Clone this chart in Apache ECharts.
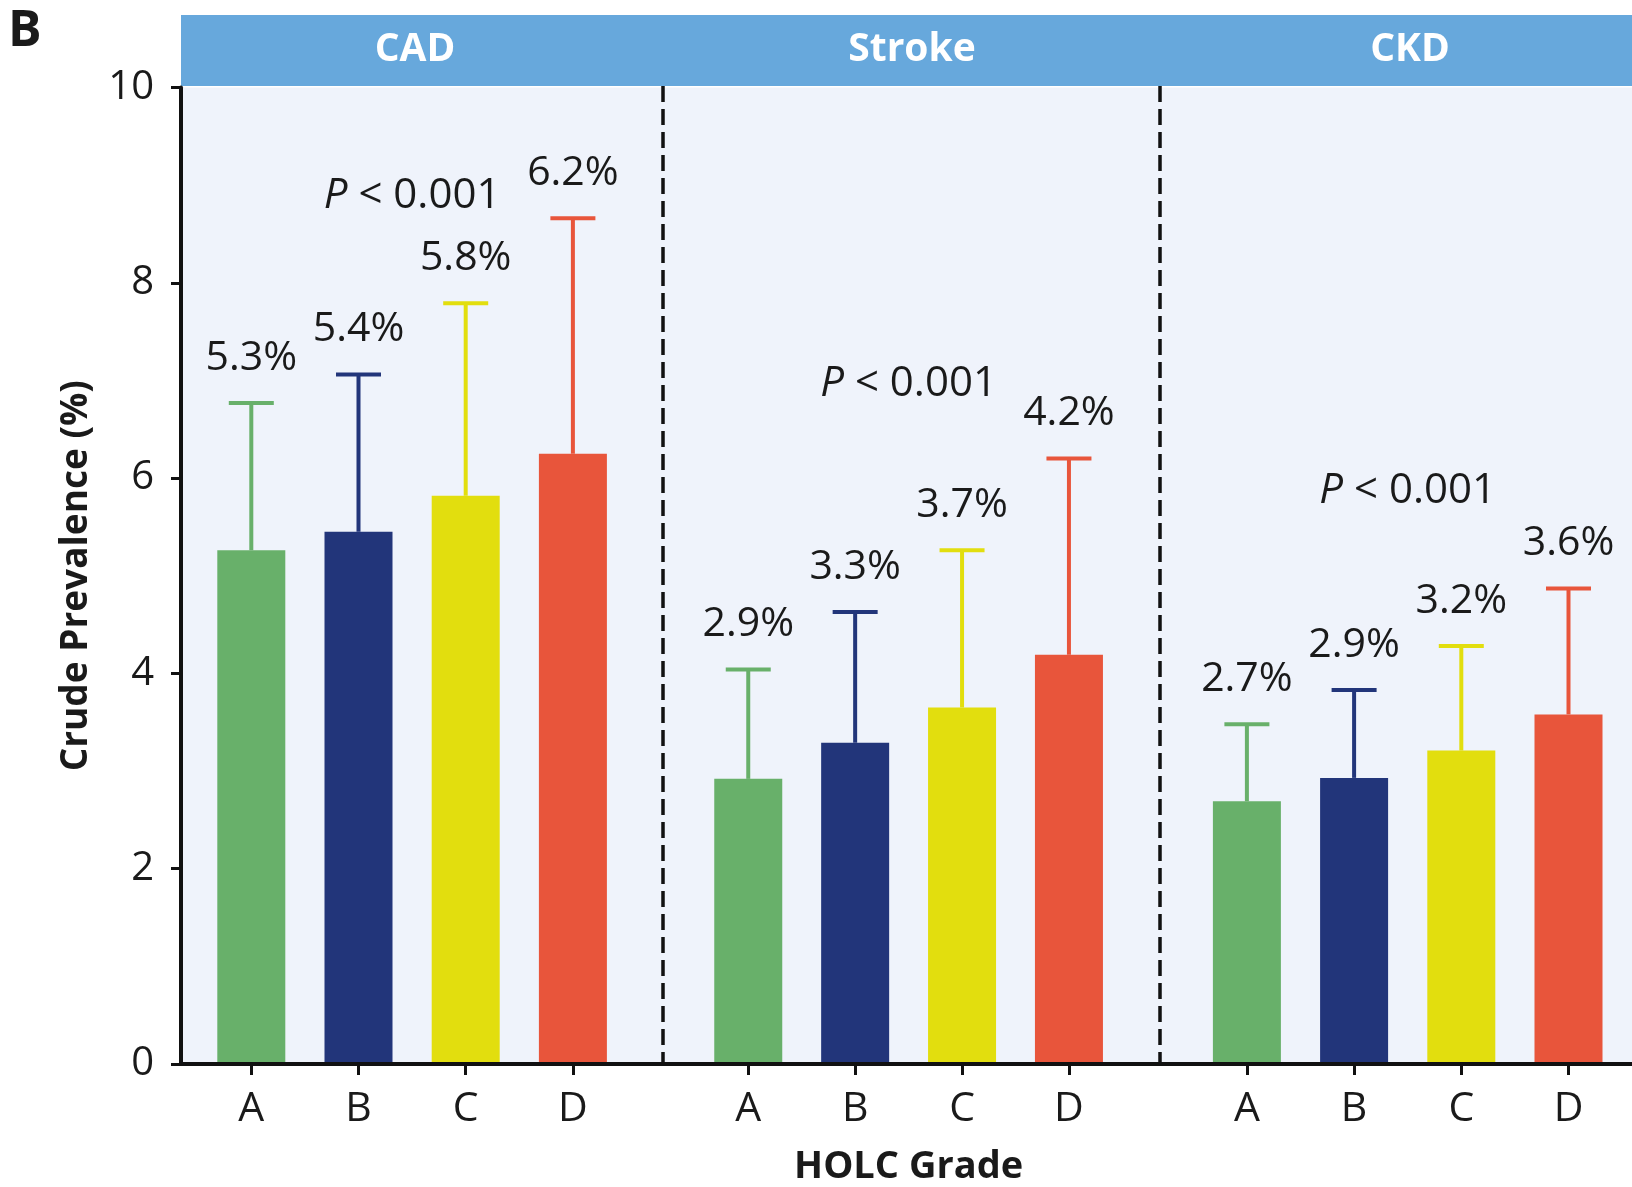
<!DOCTYPE html>
<html>
<head>
<meta charset="utf-8">
<script src="https://cdn.jsdelivr.net/npm/echarts@6/dist/echarts.min.js"></script>
<style>
  html, body { margin: 0; padding: 0; background: #ffffff; }
  #chart { width: 1632px; height: 1187px; }
</style>
</head>
<body>
<div id="chart"></div>
<script>
// ---------------- data ----------------
const categories = ['A', 'B', 'C', 'D'];
const panelNames = ['CAD', 'Stroke', 'CKD'];

const cadValues    = [5.26, 5.45, 5.82, 6.25];
const cadUpper     = [6.77, 7.06, 7.79, 8.66];
const cadLabels    = ['5.3%', '5.4%', '5.8%', '6.2%'];

const strokeValues = [2.92, 3.29, 3.65, 4.19];
const strokeUpper  = [4.04, 4.63, 5.26, 6.20];
const strokeLabels = ['2.9%', '3.3%', '3.7%', '4.2%'];

const ckdValues    = [2.69, 2.93, 3.21, 3.58];
const ckdUpper     = [3.48, 3.83, 4.28, 4.87];
const ckdLabels    = ['2.7%', '2.9%', '3.2%', '3.6%'];

const pValueTexts  = ['< 0.001', '< 0.001', '< 0.001'];
const pLabelY      = [8.89, 6.96, 5.87];

const yMin = 0, yMax = 10, yInterval = 2;
const yAxisTitle = 'Crude Prevalence (%)';
const xAxisTitle = 'HOLC Grade';
const panelLetter = 'B';

// ---------------- styles / layout ----------------
const gradeColors = ['#68B06A', '#22357A', '#E2DE0E', '#E8553B'];
const FONT = '"Open Sans", "Noto Sans", sans-serif';
const TXT = '#1a1a1a';
const W_REG = 500;
const PLOT = { left: 181, top: 87.5, bottom: 1064 };
const H = 1187;
const barGrids = [
  { left: 197.7, width: 428.8 },
  { left: 694.8, width: 427.6 },
  { left: 1193.3, width: 428.8 }
];
const dividerX = [663, 1160];
const headerX = [415, 912, 1410];

const panelData = [
  { values: cadValues, upper: cadUpper, labels: cadLabels },
  { values: strokeValues, upper: strokeUpper, labels: strokeLabels },
  { values: ckdValues, upper: ckdUpper, labels: ckdLabels }
];

const chart = echarts.init(document.getElementById('chart'), null, { renderer: 'canvas' });

const grids = [{
  left: PLOT.left, top: PLOT.top, right: 0, bottom: H - PLOT.bottom,
  show: true, backgroundColor: '#EFF3FB', borderWidth: 0,
  containLabel: false, outerBoundsMode: 'none'
}];
barGrids.forEach(g => grids.push({
  left: g.left, width: g.width, top: PLOT.top, bottom: H - PLOT.bottom,
  containLabel: false, outerBoundsMode: 'none'
}));

const xAxes = [{
  gridIndex: 0, type: 'value', min: 0, max: 1, z: 10,
  axisLine: { show: true, lineStyle: { color: '#111', width: 4 } },
  axisTick: { show: false }, axisLabel: { show: false }, splitLine: { show: false }
}];
const yAxes = [{
  gridIndex: 0, type: 'value', min: yMin, max: yMax, interval: yInterval, z: 10,
  name: yAxisTitle, nameLocation: 'middle', nameGap: 86, nameRotate: 90,
  nameTextStyle: { fontFamily: FONT, fontSize: 37, fontWeight: 'bold', color: TXT },
  axisLine: { show: true, lineStyle: { color: '#111', width: 4 } },
  axisTick: { show: true, length: 10, lineStyle: { color: '#111', width: 3 } },
  axisLabel: { fontFamily: FONT, fontSize: 40, fontWeight: W_REG, color: TXT, margin: 27 },
  splitLine: { show: false }
}];

barGrids.forEach((g, k) => {
  const ax = {
    gridIndex: k + 1, type: 'category', data: categories,
    axisLine: { show: false },
    axisTick: { show: true, alignWithLabel: true, length: 11, lineStyle: { color: '#111', width: 3 } },
    axisLabel: { fontFamily: FONT, fontSize: 41, fontWeight: W_REG, color: TXT, margin: 25 }
  };
  if (k === 1) {
    ax.name = xAxisTitle;
    ax.nameLocation = 'middle';
    ax.nameGap = 84;
    ax.nameTextStyle = { fontFamily: FONT, fontSize: 38, fontWeight: 'bold', color: TXT };
  }
  xAxes.push(ax);
  yAxes.push({ gridIndex: k + 1, type: 'value', min: yMin, max: yMax, show: false });
});

const series = [];
panelData.forEach((p, k) => {
  series.push({
    type: 'bar', xAxisIndex: k + 1, yAxisIndex: k + 1, barWidth: 68,
    data: p.values.map((v, i) => ({ value: v, itemStyle: { color: gradeColors[i] } })),
    silent: true, z: 2
  });
  series.push({
    type: 'custom', xAxisIndex: k + 1, yAxisIndex: k + 1, z: 3, silent: true,
    data: p.values.map((v, i) => [i, v, p.upper[i]]),
    encode: { x: 0, y: [1, 2] },
    renderItem: (params, api) => {
      const i = params.dataIndex;
      const base = api.coord([api.value(0), api.value(1)]);
      const top = api.coord([api.value(0), api.value(2)]);
      const c = gradeColors[i];
      const half = 22.5;
      return {
        type: 'group', children: [
          { type: 'line', shape: { x1: base[0], y1: base[1], x2: top[0], y2: top[1] }, style: { stroke: c, lineWidth: 4 } },
          { type: 'line', shape: { x1: top[0] - half, y1: top[1], x2: top[0] + half, y2: top[1] }, style: { stroke: c, lineWidth: 4 } },
          { type: 'text', x: top[0], y: top[1] - 45,
            style: { text: p.labels[i], fill: TXT, fontFamily: FONT, fontSize: 41, fontWeight: W_REG, align: 'center', verticalAlign: 'middle' } }
        ]
      };
    }
  });
  series.push({
    type: 'custom', xAxisIndex: k + 1, yAxisIndex: k + 1, z: 3, silent: true,
    data: [[0, pLabelY[k]]],
    encode: { x: 0, y: 1 },
    renderItem: (params, api) => {
      const cs = params.coordSys;
      const y = api.coord([0, api.value(1)])[1];
      return {
        type: 'text', x: cs.x + cs.width / 2, y: y,
        style: {
          text: '{i|P} ' + pValueTexts[k],
          fill: TXT, fontFamily: FONT, fontSize: 42, fontWeight: W_REG, align: 'center', verticalAlign: 'middle',
          rich: { i: { fontStyle: 'italic', fontFamily: FONT, fontSize: 42, fontWeight: W_REG, fill: TXT } }
        }
      };
    }
  });
});

const graphics = [
  { type: 'rect', left: PLOT.left, top: 15, shape: { width: 1632 - PLOT.left, height: 71 }, style: { fill: '#67A8DC' }, z: 5 },
  { type: 'text', left: 8, top: 7, style: { text: panelLetter, fill: TXT, fontFamily: FONT, fontSize: 50, fontWeight: 'bold' }, z: 5 }
];
panelNames.forEach((n, k) => graphics.push({
  type: 'text', x: headerX[k], y: 50, z: 6,
  style: { text: n, fill: '#ffffff', fontFamily: FONT, fontSize: 39, fontWeight: 'bold', align: 'center', verticalAlign: 'middle' }
}));
dividerX.forEach(x => graphics.push({
  type: 'line', z: 4, shape: { x1: x, y1: 86, x2: x, y2: PLOT.bottom },
  style: { stroke: '#111', lineWidth: 3.5, lineDash: [16, 7] }
}));

chart.setOption({
  animation: false,
  grid: grids, xAxis: xAxes, yAxis: yAxes, series: series, graphic: graphics
});
</script>
</body>
</html>
